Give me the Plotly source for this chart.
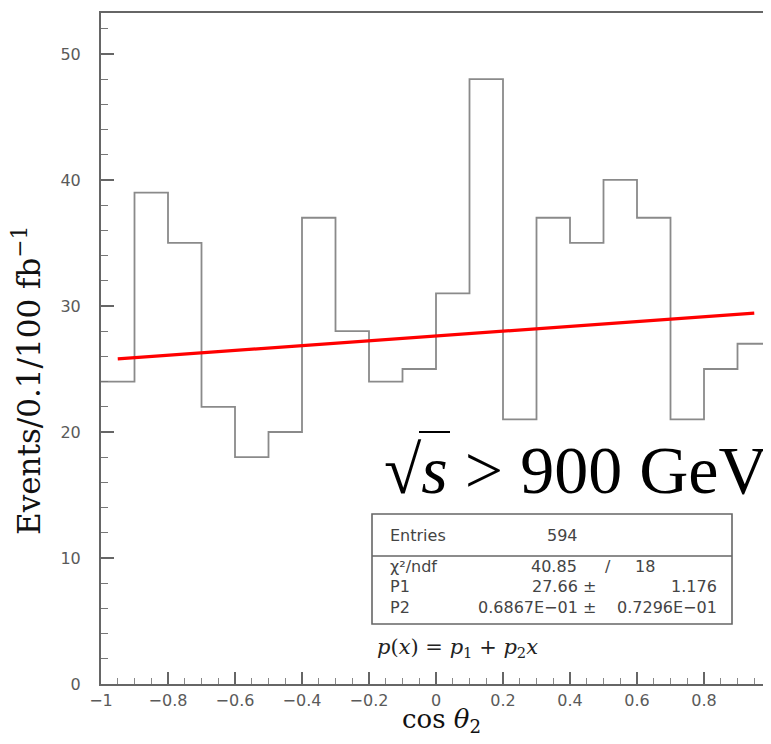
import plotly.graph_objects as go

# Data
bin_edges = [-1.0, -0.9, -0.8, -0.7, -0.6, -0.5, -0.4, -0.3, -0.2, -0.1, 0.0,
             0.1, 0.2, 0.3, 0.4, 0.5, 0.6, 0.7, 0.8, 0.9, 1.0]
counts = [24, 39, 35, 22, 18, 20, 37, 28, 24, 25,
          31, 48, 21, 37, 35, 40, 37, 21, 25, 27]
fit_x = [-0.95, 0.95]
fit_y = [25.8, 29.44]

stats_labels = ["Entries", "χ²/ndf", "P1", "P2"]

OFF = 8  # page body margin
W, H = 771 - OFF, 744 - OFF
L, R, T = 101 - OFF, 0, 13 - OFF
B = H - (684 - OFF)
PW, PH = W - L - R, H - T - B


def px(x):  # screen pixel -> paper
    return (x - OFF - L) / PW


def py(y):
    return (H - B - (y - OFF)) / PH


fig = go.Figure()
fig.add_trace(go.Scatter(
    x=bin_edges, y=counts + [counts[-1]], mode="lines", line_shape="hv",
    line=dict(color="#8a8a8a", width=1.8), hoverinfo="skip", showlegend=False))
fig.add_trace(go.Scatter(
    x=fit_x, y=fit_y, mode="lines",
    line=dict(color="#ff0000", width=3.2), showlegend=False))

tickfont = dict(family="DejaVu Sans", size=16, color="#5a5a5a")

fig.update_layout(
    width=W, height=H,
    margin=dict(l=L, r=R, t=T, b=B, autoexpand=False),
    paper_bgcolor="white", plot_bgcolor="white",
    xaxis=dict(range=[-1, 1], showgrid=False, zeroline=False, automargin=False,
               showline=True, linecolor="#666666", linewidth=2, mirror=True,
               ticks="inside", ticklen=12, tickwidth=1.5, tickcolor="#666666",
               tick0=-1, dtick=0.2, tickfont=tickfont, ticklabelstandoff=1,
               minor=dict(ticks="inside", ticklen=6, dtick=0.05, tickcolor="#888888", tickwidth=1.2)),
    yaxis=dict(range=[0, 53.25], showgrid=False, zeroline=False, automargin=False,
               showline=True, linecolor="#666666", linewidth=2,
               ticks="inside", ticklen=13, tickwidth=1.5, tickcolor="#666666",
               tick0=0, dtick=10, tickfont=tickfont, ticklabelstandoff=15,
               minor=dict(ticks="inside", ticklen=7, dtick=2, tickcolor="#777777", tickwidth=1.2)),
)

ann = []


def add(text, x, y, xanchor="center", font=None, **kw):
    ann.append(dict(x=px(x), y=py(y), xref="paper", yref="paper",
                    xanchor=xanchor, yanchor="middle", text=text,
                    showarrow=False, font=font, **kw))


# axis titles
add("Events/0.1/100 fb<sup>−1</sup>", 27, 381, textangle=-90,
    font=dict(family="DejaVu Serif", size=31, color="#111111"))
add("cos <i>θ</i><sub>2</sub>", 441, 720,
    font=dict(family="DejaVu Serif", size=26, color="#111111"))
# big label
add("√<i>s</i> &gt; 900 GeV", 576, 470,
    font=dict(family="Liberation Serif", size=68, color="#000000"))
# formula
add("<i>p</i>(<i>x</i>) = <i>p</i><sub>1</sub> + <i>p</i><sub>2</sub><i>x</i>", 375, 648,
    xanchor="left", font=dict(family="DejaVu Serif", size=21, color="#222222"))

sf = dict(family="DejaVu Sans", size=16, color="#444444")
rows_y = [535, 566, 586, 607]
for lab, yy in zip(stats_labels, rows_y):
    add(lab, 388, yy, xanchor="left", font=sf)
vals = [
    ("594", 562, 535, "center"),
    ("40.85", 579, 566, "right"),
    ("/", 608, 566, "center"),
    ("18", 633, 566, "left"),
    ("27.66 ±", 598, 586, "right"),
    ("1.176", 719, 586, "right"),
    ("0.6867E−01 ±", 598, 607, "right"),
    ("0.7296E−01", 719, 607, "right"),
]
for t, xx, yy, anc in vals:
    add(t, xx, yy, xanchor=anc, font=sf)

fig.update_layout(annotations=ann)

# vinculum of the square root
fig.add_shape(type="line", xref="paper", yref="paper",
              x0=px(419), x1=px(450), y0=py(432), y1=py(432),
              line=dict(color="#000000", width=2))

fig.add_shape(type="rect", xref="paper", yref="paper",
              x0=px(372), x1=px(732), y0=py(624), y1=py(514),
              line=dict(color="#666666", width=1.6), fillcolor="rgba(0,0,0,0)")
fig.add_shape(type="line", xref="paper", yref="paper",
              x0=px(372), x1=px(732), y0=py(556), y1=py(556),
              line=dict(color="#666666", width=1.6))

fig.write_html("out.html")
